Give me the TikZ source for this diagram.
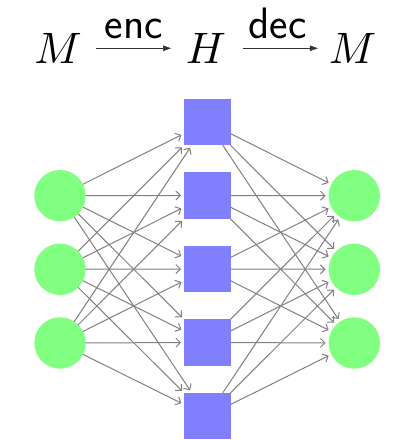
\documentclass[tikz,border=0pt]{standalone}
\usetikzlibrary{arrows.meta}
\definecolor{edgegray}{RGB}{128,128,128}
\begin{document}
\begin{tikzpicture}[x=1pt,y=-1pt,
  inp/.style={circle,fill=green!50,inner sep=0pt,outer sep=0pt,minimum size=51.4pt},
  hid/.style={rectangle,fill=blue!50,inner sep=0pt,outer sep=0pt,minimum size=46.5pt},
  conn/.style={draw=edgegray,line width=1pt,-{Straight Barb[length=4.5pt,width=9pt]},shorten >=3pt},
  txt/.style={font=\fontsize{10}{12}\selectfont,scale=4.4,inner sep=0pt,anchor=base},
  lbl/.style={font=\fontsize{44}{50}\selectfont\sffamily,inner sep=0pt,above=9pt},
  topar/.style={draw=black!80,line width=0.7pt,-{Triangle[length=8pt,width=5.5pt]}}
]
\useasboundingbox (0,0) rectangle (415,440);
% top formula
\node[txt] (mA) at (58,63.3) {$M$};
\node[txt] (hh) at (206,63.3) {$H$};
\node[txt] (mB) at (352.5,63.3) {$M$};
\draw[topar,shorten <=13pt,shorten >=14pt] (mA.east) -- (hh.west) node[midway,lbl] {enc};
\draw[topar,shorten <=16pt,shorten >=10pt] (hh.east) -- (mB.west) node[midway,lbl] {dec};
% network nodes
\foreach \i/\y in {1/195.7,2/269.3,3/343} {
  \node[inp] (i\i) at (60,\y) {};
  \node[inp] (o\i) at (354.3,\y) {};
}
\foreach \j/\y in {1/122,2/195.5,3/269,4/342.5,5/416} {
  \node[hid] (h\j) at (207.3,\y) {};
}
\foreach \i in {1,2,3} {
  \foreach \j in {1,...,5} {
    \draw[conn] (i\i) -- (h\j);
    \draw[conn] (h\j) -- (o\i);
  }
}
\end{tikzpicture}
\end{document}
